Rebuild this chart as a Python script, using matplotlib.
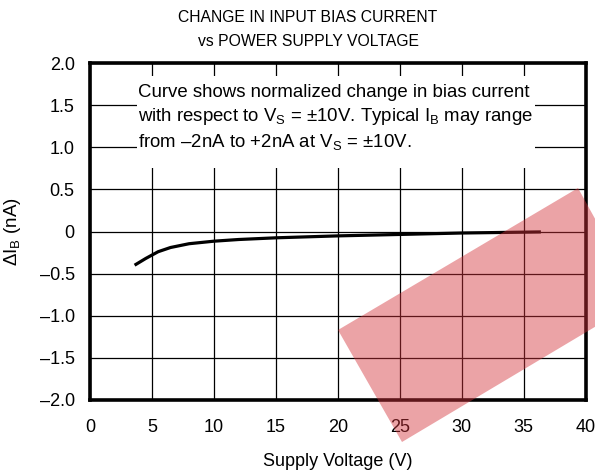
import matplotlib
matplotlib.use('Agg')
import matplotlib.pyplot as plt
from matplotlib.patches import Rectangle, Polygon

## data ##

supply_v = [3.6, 4.5, 5.5, 6.5, 8, 10, 12, 15, 20, 25, 30, 36.4]
delta_ib = [-0.40, -0.32, -0.24, -0.19, -0.145, -0.115, -0.095, -0.075, -0.052, -0.035, -0.018, -0.005]

x_ticks = [0, 5, 10, 15, 20, 25, 30, 35, 40]
y_ticks = [-2.0, -1.5, -1.0, -0.5, 0, 0.5, 1.0, 1.5, 2.0]
y_labels = ['\u20132.0', '\u20131.5', '\u20131.0', '\u20130.5', '0', '0.5', '1.0', '1.5', '2.0']

note = ('Curve shows normalized change in bias current\n'
        'with respect to V$_\\mathrm{S}$ = \u00b110V. Typical I$_\\mathrm{B}$ may range\n'
        'from \u20132nA to +2nA at V$_\\mathrm{S}$ = \u00b110V.')

## plot ##

plt.rcParams['font.family'] = ['Liberation Sans', 'DejaVu Sans']
plt.rcParams['mathtext.fontset'] = 'custom'
plt.rcParams['mathtext.rm'] = 'Liberation Sans'
plt.rcParams['mathtext.it'] = 'Liberation Sans:italic'

fig = plt.figure(figsize=(5.95, 4.72), dpi=100)
ax = fig.add_axes([90/595, 1 - 400/472, 495.5/595, 337/472])

ax.set_xlim(0, 40)
ax.set_ylim(-2, 2)
ax.set_xticks(x_ticks)
ax.set_yticks(y_ticks)
ax.set_yticklabels(y_labels)
ax.tick_params(length=0, labelsize=13)
ax.tick_params(axis='y', pad=11)
ax.tick_params(axis='x', pad=14)
ax.grid(True, color='black', linewidth=0.9)
ax.set_axisbelow(True)
for s in ax.spines.values():
    s.set_linewidth(2.6)
    s.set_zorder(5)

# white panel behind the note
ax.add_patch(Rectangle((3.8, 0.75), 32.1, 1.10, facecolor='white', edgecolor='none', zorder=2))
ax.text(3.85, 1.35, note, fontsize=13.4, va='center', ha='left', linespacing=1.32, zorder=3)

ax.plot(supply_v, delta_ib, color='black', linewidth=2.3, zorder=4, solid_capstyle='butt')

ax.set_xlabel('Supply Voltage (V)', fontsize=13, labelpad=12)
ax.set_ylabel('$\\mathrm{\\Delta I_B}$ (nA)', fontsize=13.5, labelpad=12)

fig.text(308/595, 1 - 17/472, 'CHANGE IN INPUT BIAS CURRENT', ha='center', va='center', fontsize=11.3)
fig.text(308/595, 1 - 42/472, 'vs POWER SUPPLY VOLTAGE', ha='center', va='center', fontsize=11.3)

# watermark band
band = [(338/595, 1 - 330/472), (402/595, 1 - 442/472), (640/595, 1 - 300/472), (578/595, 1 - 188/472)]
fig.patches.append(Polygon(band, closed=True, transform=fig.transFigure,
                           facecolor=(211/255, 51/255, 58/255), alpha=0.45, edgecolor='none', zorder=10))

fig.savefig('out.png', dpi=100)
